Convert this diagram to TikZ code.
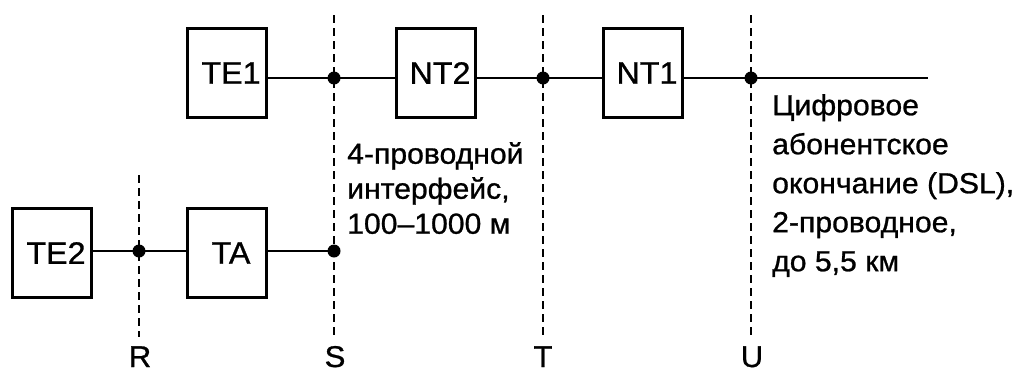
\documentclass[tikz,border=0pt]{standalone}
\usepackage{fontspec}
\setmainfont{Liberation Sans}[FakeBold=0.9,FakeStretch=1.04]
\begin{document}
\begin{tikzpicture}[x=1pt,y=-1pt,
  unit/.style={draw,line width=2.4pt,minimum width=79pt,minimum height=89pt,
    inner sep=0pt,font=\fontsize{31}{31}\selectfont},
  wire/.style={line width=2.4pt},
  refline/.style={line width=1.9pt,dash pattern=on 8pt off 5pt},
  junction/.style={circle,fill=black,inner sep=0pt,minimum size=13pt},
  ptlabel/.style={font=\fontsize{30}{30}\selectfont,inner sep=0pt,anchor=base},
  note/.style={align=left,inner sep=0pt,anchor=north west}]
  \useasboundingbox (0,0) rectangle (1024,372);

  % functional units
  \node[unit] (te1) at (227,73) {\hspace{8pt}TE1};
  \node[unit] (nt2) at (436,73) {\hspace{8pt}NT2};
  \node[unit] (nt1) at (643,73) {\hspace{8pt}NT1};
  \node[unit] (te2) at (52,253) {\hspace{8pt}TE2};
  \node[unit] (ta)  at (227,253) {\hspace{8pt}TA};

  % reference points
  \coordinate (Rtop) at (139,175);  \coordinate (Rbot) at (139,337);
  \coordinate (Stop) at (334,15);   \coordinate (Sbot) at (334,337);
  \coordinate (Ttop) at (543,15);   \coordinate (Tbot) at (543,337);
  \coordinate (Utop) at (751,15);   \coordinate (Ubot) at (751,337);
  \coordinate (lineend) at (928,78);

  \draw[refline] (Rtop) -- (Rbot);
  \draw[refline] (Stop) -- (Sbot);
  \draw[refline] (Ttop) -- (Tbot);
  \draw[refline] (Utop) -- (Ubot);

  \node[junction] (s1) at (334,78) {};
  \node[junction] (t1) at (543,78) {};
  \node[junction] (u1) at (751,78) {};
  \node[junction] (r2) at (139,251) {};
  \node[junction] (s2) at (334,251) {};

  % connections
  \draw[wire] (te1.east |- s1) -- (s1.center) -- (nt2.west |- s1);
  \draw[wire] (nt2.east |- t1) -- (t1.center) -- (nt1.west |- t1);
  \draw[wire] (nt1.east |- u1) -- (u1.center) -- (lineend);
  \draw[wire] (te2.east |- r2) -- (r2.center) -- (ta.west |- r2);
  \draw[wire] (ta.east |- s2) -- (s2.center);

  % reference point labels
  \node[ptlabel] (lR) at (140,367) {R};
  \node[ptlabel] (lS) at (335,367) {S};
  \node[ptlabel] (lT) at (543,367) {T};
  \node[ptlabel] (lU) at (752,367) {U};

  % interface descriptions
  \node[note,font=\fontsize{29}{35}\selectfont] (sdesc) at (347,142)
    {4-проводной\\интерфейс,\\100--1000 м};
  \node[note,font=\fontsize{29}{39}\selectfont] (udesc) at (772,94)
    {Цифровое\\абонентское\\окончание (DSL),\\2-проводное,\\до 5,5 км};
\end{tikzpicture}
\end{document}
